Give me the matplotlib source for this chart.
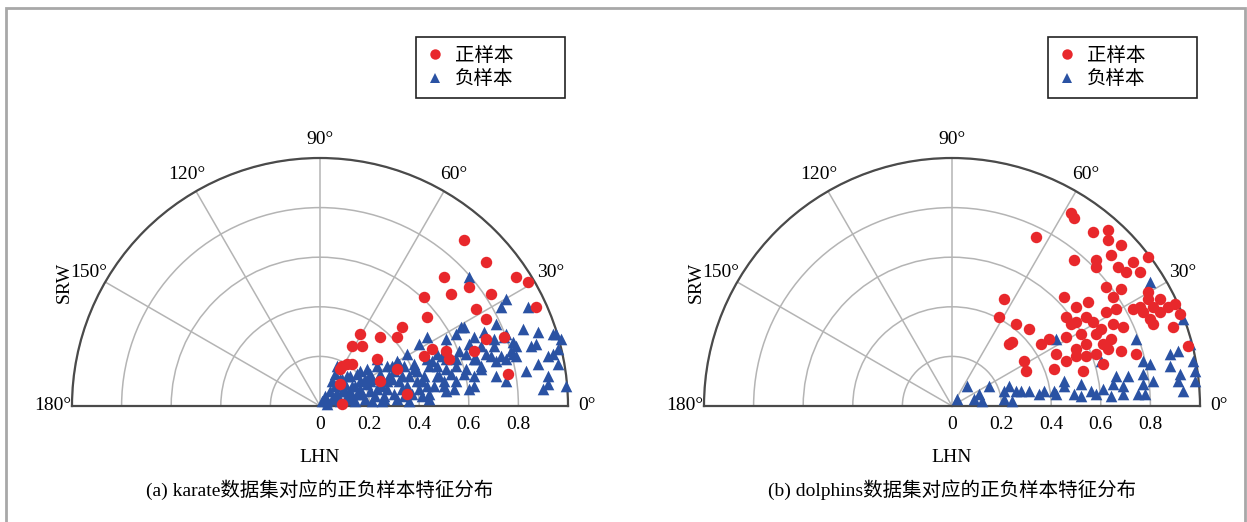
import numpy as np
import matplotlib
matplotlib.use("Agg")
import matplotlib.pyplot as plt
from matplotlib.lines import Line2D
from matplotlib.patches import Rectangle

plt.rcParams['font.family'] = ['Liberation Serif', 'Noto Sans CJK SC']

RED = '#e8282c'
BLUE = '#2a52a3'

# karate: positive samples (LHN, SRW)
karate_pos_lhn = [0.58, 0.67, 0.79, 0.84, 0.87, 0.50, 0.53, 0.60, 0.69, 0.42, 0.63, 0.67, 0.43,
                  0.33, 0.24, 0.31, 0.16, 0.13, 0.17, 0.67, 0.74, 0.45, 0.51, 0.62, 0.23, 0.42,
                  0.11, 0.09, 0.13, 0.76, 0.31, 0.09, 0.24, 0.35, 0.08, 0.08, 0.52]
karate_pos_srw = [0.67, 0.58, 0.52, 0.50, 0.40, 0.52, 0.45, 0.48, 0.45, 0.44, 0.39, 0.35, 0.36,
                  0.32, 0.28, 0.28, 0.29, 0.24, 0.24, 0.27, 0.28, 0.23, 0.22, 0.22, 0.19, 0.20,
                  0.17, 0.16, 0.17, 0.13, 0.15, 0.01, 0.10, 0.05, 0.09, 0.15, 0.19]

# karate: negative samples (LHN, SRW)
karate_neg_lhn = [0.60, 0.75, 0.73, 0.84, 0.58, 0.62, 0.55, 0.43, 0.40, 0.74, 0.70, 0.79, 0.94,
                  0.94, 0.96, 0.92, 0.96, 0.88, 0.83, 0.92, 0.92, 0.99, 0.75, 0.71, 0.78, 0.73,
                  0.67, 0.62, 0.65, 0.59, 0.55, 0.51, 0.55, 0.47, 0.43, 0.47, 0.51, 0.47, 0.35,
                  0.38, 0.32, 0.27, 0.23, 0.19, 0.62, 0.51, 0.43, 0.39, 0.32, 0.28, 0.31, 0.15,
                  0.11, 0.08, 0.05, 0.04, 0.02, 0.01, 0.06, 0.09, 0.11, 0.14, 0.17, 0.19, 0.22,
                  0.25, 0.27, 0.30, 0.33, 0.35, 0.38, 0.41, 0.44, 0.46, 0.49, 0.29, 0.14, 0.25,
                  0.34, 0.10, 0.18, 0.06, 0.07, 0.23, 0.41, 0.57, 0.51, 0.65, 0.70, 0.75, 0.77,
                  0.75, 0.79, 0.71, 0.69, 0.63, 0.59, 0.51, 0.55, 0.58, 0.65, 0.62, 0.50, 0.54,
                  0.60, 0.90, 0.95, 0.87, 0.97, 0.03, 0.07, 0.12, 0.16, 0.20, 0.13, 0.21, 0.26,
                  0.36, 0.44,
                  0.03, 0.05, 0.07, 0.08, 0.10, 0.12, 0.13, 0.15, 0.16, 0.18, 0.20, 0.21, 0.23,
                  0.24, 0.26, 0.27, 0.29, 0.30, 0.31, 0.33, 0.34, 0.36, 0.37, 0.39, 0.40, 0.42,
                  0.44, 0.45, 0.48, 0.50, 0.53, 0.56, 0.60, 0.66, 0.71, 0.78, 0.85, 0.88, 0.82,
                  0.09, 0.12, 0.06, 0.20, 0.16]
karate_neg_srw = [0.52, 0.43, 0.40, 0.40, 0.32, 0.28, 0.29, 0.28, 0.25, 0.28, 0.27, 0.24, 0.29,
                  0.21, 0.23, 0.20, 0.17, 0.17, 0.14, 0.12, 0.09, 0.08, 0.10, 0.12, 0.21, 0.20,
                  0.21, 0.19, 0.16, 0.15, 0.19, 0.15, 0.10, 0.16, 0.19, 0.12, 0.23, 0.21, 0.21,
                  0.17, 0.17, 0.16, 0.16, 0.15, 0.08, 0.06, 0.08, 0.10, 0.10, 0.12, 0.18, 0.13,
                  0.12, 0.11, 0.10, 0.06, 0.04, 0.02, 0.04, 0.06, 0.04, 0.08, 0.05, 0.09, 0.04,
                  0.08, 0.10, 0.05, 0.12, 0.08, 0.15, 0.10, 0.16, 0.08, 0.20, 0.16, 0.02, 0.02,
                  0.04, 0.09, 0.11, 0.13, 0.16, 0.19, 0.04, 0.32, 0.27, 0.24, 0.24, 0.29, 0.22,
                  0.19, 0.20, 0.18, 0.20, 0.19, 0.21, 0.19, 0.16, 0.13, 0.15, 0.12, 0.10, 0.07,
                  0.07, 0.07, 0.29, 0.25, 0.27, 0.01, 0.03, 0.06, 0.07, 0.10, 0.03, 0.02, 0.03,
                  0.02, 0.03,
                  0.02, 0.03, 0.05, 0.02, 0.06, 0.03, 0.08, 0.05, 0.10, 0.03, 0.06, 0.11, 0.07,
                  0.13, 0.04, 0.07, 0.11, 0.14, 0.03, 0.07, 0.16, 0.12, 0.05, 0.14, 0.07, 0.12,
                  0.05, 0.18, 0.12, 0.08, 0.13, 0.22, 0.25, 0.30, 0.33, 0.26, 0.24, 0.30, 0.31,
                  0.11, 0.12, 0.08, 0.13, 0.14]

# dolphins: positive samples (LHN, SRW)
dolphins_pos_lhn = [0.48, 0.49, 0.34, 0.57, 0.63, 0.63, 0.68, 0.49, 0.58, 0.58, 0.64, 0.67, 0.73,
                    0.76, 0.70, 0.79, 0.62, 0.65, 0.68, 0.79, 0.79, 0.76, 0.73, 0.77, 0.81, 0.87,
                    0.84, 0.80, 0.81, 0.89, 0.92, 0.95, 0.45, 0.55, 0.50, 0.46, 0.54, 0.50, 0.57,
                    0.62, 0.65, 0.69, 0.60, 0.52, 0.46, 0.39, 0.36, 0.42, 0.46, 0.50, 0.54, 0.50,
                    0.54, 0.58, 0.61, 0.64, 0.63, 0.68, 0.61, 0.53, 0.41, 0.29, 0.30, 0.23, 0.24,
                    0.26, 0.31, 0.21, 0.19, 0.74, 0.58, 0.48, 0.66, 0.84, 0.90]
dolphins_pos_srw = [0.78, 0.76, 0.68, 0.70, 0.71, 0.67, 0.65, 0.59, 0.59, 0.56, 0.61, 0.56, 0.58,
                    0.54, 0.54, 0.60, 0.48, 0.44, 0.47, 0.46, 0.43, 0.40, 0.39, 0.38, 0.40, 0.40,
                    0.38, 0.35, 0.33, 0.32, 0.37, 0.24, 0.44, 0.42, 0.40, 0.36, 0.36, 0.34, 0.34,
                    0.38, 0.33, 0.32, 0.31, 0.29, 0.28, 0.27, 0.25, 0.21, 0.18, 0.23, 0.25, 0.20,
                    0.20, 0.21, 0.25, 0.27, 0.23, 0.22, 0.17, 0.14, 0.15, 0.18, 0.14, 0.25, 0.26,
                    0.33, 0.31, 0.43, 0.36, 0.21, 0.29, 0.33, 0.39, 0.43, 0.41]

# dolphins: negative samples (LHN, SRW)
dolphins_neg_lhn = [0.80, 0.93, 0.96, 0.42, 0.60, 0.74, 0.77, 0.80, 0.88, 0.91, 0.88, 0.92, 0.97,
                    0.98, 0.98, 0.91, 0.93, 0.81, 0.77, 0.77, 0.78, 0.75, 0.71, 0.69, 0.66, 0.65,
                    0.69, 0.61, 0.58, 0.56, 0.52, 0.45, 0.45, 0.41, 0.42, 0.37, 0.35, 0.31, 0.28,
                    0.26, 0.23, 0.21, 0.21, 0.24, 0.15, 0.11, 0.09, 0.12, 0.06, 0.02, 0.49, 0.52,
                    0.64]
dolphins_neg_srw = [0.50, 0.35, 0.25, 0.27, 0.18, 0.27, 0.18, 0.17, 0.21, 0.22, 0.16, 0.13, 0.18,
                    0.14, 0.10, 0.10, 0.06, 0.10, 0.13, 0.09, 0.05, 0.05, 0.12, 0.08, 0.12, 0.09,
                    0.05, 0.07, 0.05, 0.06, 0.09, 0.10, 0.08, 0.06, 0.05, 0.06, 0.05, 0.06, 0.06,
                    0.06, 0.08, 0.06, 0.03, 0.02, 0.08, 0.05, 0.03, 0.02, 0.08, 0.03, 0.05, 0.04,
                    0.04]

angle_ticks = [0, 30, 60, 90, 120, 150, 180]
radius_ticks = [0.0, 0.2, 0.4, 0.6, 0.8, 1.0]
radius_labels = ['0', '0.2', '0.4', '0.6', '0.8', '']
captions = ['(a) karate数据集对应的正负样本特征分布', '(b) dolphins数据集对应的正负样本特征分布']


def to_polar(x, y):
    x = np.asarray(x)
    y = np.asarray(y)
    return np.arctan2(y, x), np.hypot(x, y)


def half_polar(cx_px, pos, neg, caption, legend_box):
    # square box; the half disc gets centred in it vertically
    rect = [(cx_px - R) / W, (H - (BASE - R / 2 + R)) / H, 2 * R / W, 2 * R / H]
    ax = fig.add_axes(rect, projection='polar')
    ax.set_thetamin(0)
    ax.set_thetamax(180)
    ax.set_ylim(0, 1.0)
    ax.set_thetagrids(angle_ticks, [f'{a}°' for a in angle_ticks])
    ax.set_rgrids(radius_ticks, radius_labels)
    ax.set_rlabel_position(0)
    ax.tick_params(axis='x', labelsize=14, pad=3)
    ax.tick_params(axis='y', labelsize=14)
    ax.grid(color='#b4b4b4', lw=1.1)
    for sp in ax.spines.values():
        sp.set_color('#4a4a4a')
        sp.set_linewidth(1.6)
    t, r = to_polar(*neg)
    ax.scatter(t, r, marker='^', s=70, color=BLUE, zorder=3, clip_on=False, linewidths=0)
    t, r = to_polar(*pos)
    ax.scatter(t, r, marker='o', s=68, color=RED, zorder=4, clip_on=False, linewidths=0)

    fig.text(cx_px / W, 1 - 490 / H, caption, ha='center', va='center', fontsize=14)
    fig.text(cx_px / W, 1 - 457 / H, 'LHN', ha='center', va='center', fontsize=14)
    fig.text((cx_px - 256) / W, 1 - 282 / H, 'SRW', rotation=90,
             ha='center', va='center', fontsize=14)

    handles = [Line2D([], [], ls='none', marker='o', ms=7.5, color=RED, mew=0),
               Line2D([], [], ls='none', marker='^', ms=7.5, color=BLUE, mew=0)]
    x0, y0, x1, y1 = legend_box
    leg = fig.legend(handles, ['正样本', '负样本'], loc='upper left', mode='expand',
                     bbox_to_anchor=(x0 / W, 1 - y1 / H, (x1 - x0) / W, (y1 - y0) / H),
                     fontsize=14, fancybox=False, edgecolor='#222222', framealpha=1,
                     handlelength=1.0, handletextpad=0.5, borderpad=0.5,
                     labelspacing=0.3, borderaxespad=0)
    leg.get_frame().set_linewidth(1.2)
    return ax


W, H = 1247, 522
R = 248
BASE = 406
fig = plt.figure(figsize=(W / 100, H / 100), dpi=100)

half_polar(320, (karate_pos_lhn, karate_pos_srw), (karate_neg_lhn, karate_neg_srw),
           captions[0], (416, 37, 565, 99))
half_polar(952, (dolphins_pos_lhn, dolphins_pos_srw), (dolphins_neg_lhn, dolphins_neg_srw),
           captions[1], (1048, 37, 1197, 92))

fig.patches.append(Rectangle((6 / W, -0.05), (1245 - 6) / W, 1.05 - 8 / H,
                             transform=fig.transFigure, fill=False,
                             edgecolor='#a8a8a8', lw=2))

fig.savefig('out.png', dpi=100)
